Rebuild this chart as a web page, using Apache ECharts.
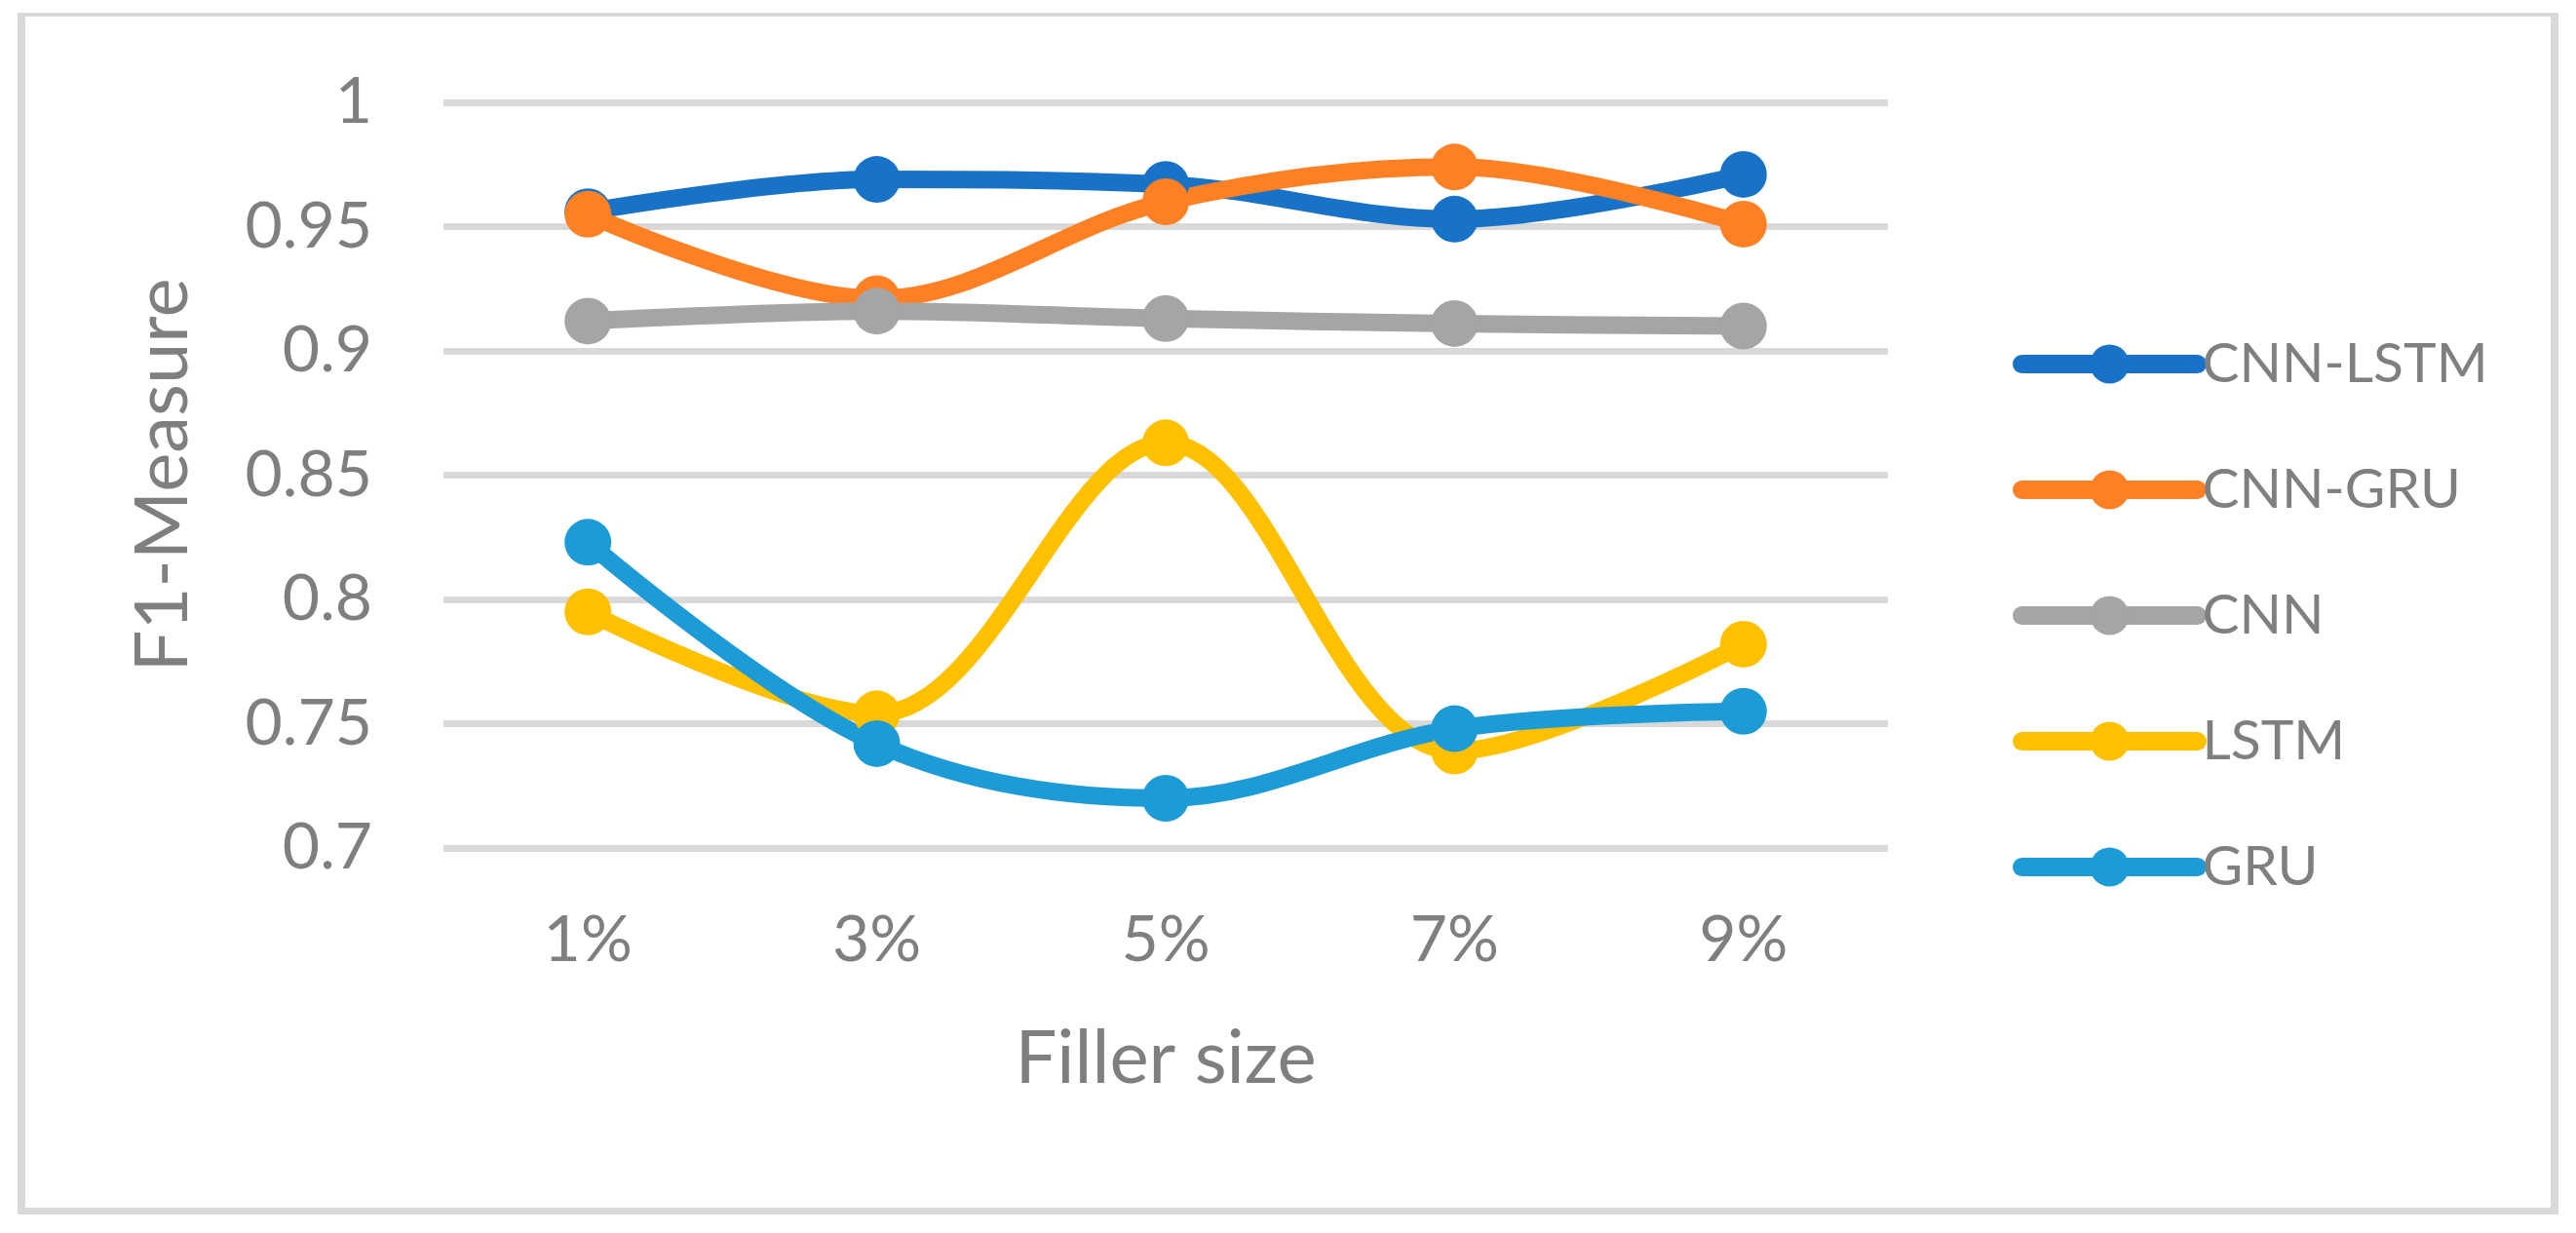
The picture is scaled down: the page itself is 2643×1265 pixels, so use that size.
<!DOCTYPE html>
<html>
<head>
<meta charset="utf-8">
<script src="https://cdn.jsdelivr.net/npm/echarts@6/dist/echarts.min.js"></script>
<style>
html,body{margin:0;padding:0;background:#fff;}
#chart{width:2643px;height:1265px;}
</style>
</head>
<body>
<div id="chart"></div>
<script>
const categories = ['1%', '3%', '5%', '7%', '9%'];
const seriesNames = ['CNN-LSTM', 'CNN-GRU', 'CNN', 'LSTM', 'GRU'];
const cnnLstm = [0.956, 0.969, 0.967, 0.953, 0.971];
const cnnGru  = [0.955, 0.921, 0.960, 0.974, 0.951];
const cnn     = [0.912, 0.916, 0.913, 0.911, 0.910];
const lstm    = [0.795, 0.754, 0.863, 0.739, 0.782];
const gru     = [0.823, 0.742, 0.720, 0.748, 0.755];
const colors = ['#1873C8', '#FE8025', '#A5A5A5', '#FFC000', '#1D9BD7'];
const yAxisTitle = 'F1-Measure';
const xAxisTitle = 'Filler size';

const allData = [cnnLstm, cnnGru, cnn, lstm, gru];
const FONT = 'Lato';
const TXT = '#7F7F7F';

const chart = echarts.init(document.getElementById('chart'), null, {renderer: 'canvas'});
chart.setOption({
  backgroundColor: '#ffffff',
  animation: false,
  color: colors,
  grid: {left: 455, right: 706, top: 105, bottom: 395, containLabel: false},
  xAxis: {
    type: 'category',
    data: categories,
    boundaryGap: true,
    axisLine: {show: false},
    axisTick: {show: false},
    axisLabel: {color: TXT, fontFamily: FONT, fontSize: 66, margin: 62},
    name: xAxisTitle,
    nameLocation: 'middle',
    nameGap: 178,
    nameTextStyle: {color: TXT, fontFamily: FONT, fontSize: 76}
  },
  yAxis: {
    type: 'value',
    min: 0.7, max: 1, interval: 0.05,
    axisLine: {show: false},
    axisTick: {show: false},
    splitLine: {lineStyle: {color: '#D9D9D9', width: 7}},
    axisLabel: {color: TXT, fontFamily: FONT, fontSize: 66, margin: 73},
    name: yAxisTitle,
    nameLocation: 'middle',
    nameGap: 250,
    nameTextStyle: {color: TXT, fontFamily: FONT, fontSize: 76}
  },
  legend: {
    orient: 'vertical',
    left: 2060,
    top: 340,
    itemWidth: 180,
    itemHeight: 50,
    itemGap: 72,
    lineStyle: {width: 19, cap: 'round'},
    textStyle: {color: TXT, fontFamily: FONT, fontSize: 57, lineHeight: 50},
    data: seriesNames
  },
  graphic: [
    {type: 'rect', shape: {x: 18, y: 13, width: 2607, height: 4}, style: {fill: '#D9D9D9'}},
    {type: 'rect', shape: {x: 18, y: 13, width: 8, height: 1233}, style: {fill: '#D9D9D9'}},
    {type: 'rect', shape: {x: 2617, y: 13, width: 8, height: 1233}, style: {fill: '#D9D9D9'}},
    {type: 'rect', shape: {x: 18, y: 1239, width: 2607, height: 7}, style: {fill: '#D9D9D9'}}
  ],
  series: seriesNames.map((name, i) => ({
    name: name,
    type: 'line',
    data: allData[i],
    smooth: 0.35,
    symbol: 'circle',
    symbolSize: 48,
    showSymbol: true,
    lineStyle: {width: 18, color: colors[i]},
    itemStyle: {color: colors[i]}
  }))
});
</script>
</body>
</html>
